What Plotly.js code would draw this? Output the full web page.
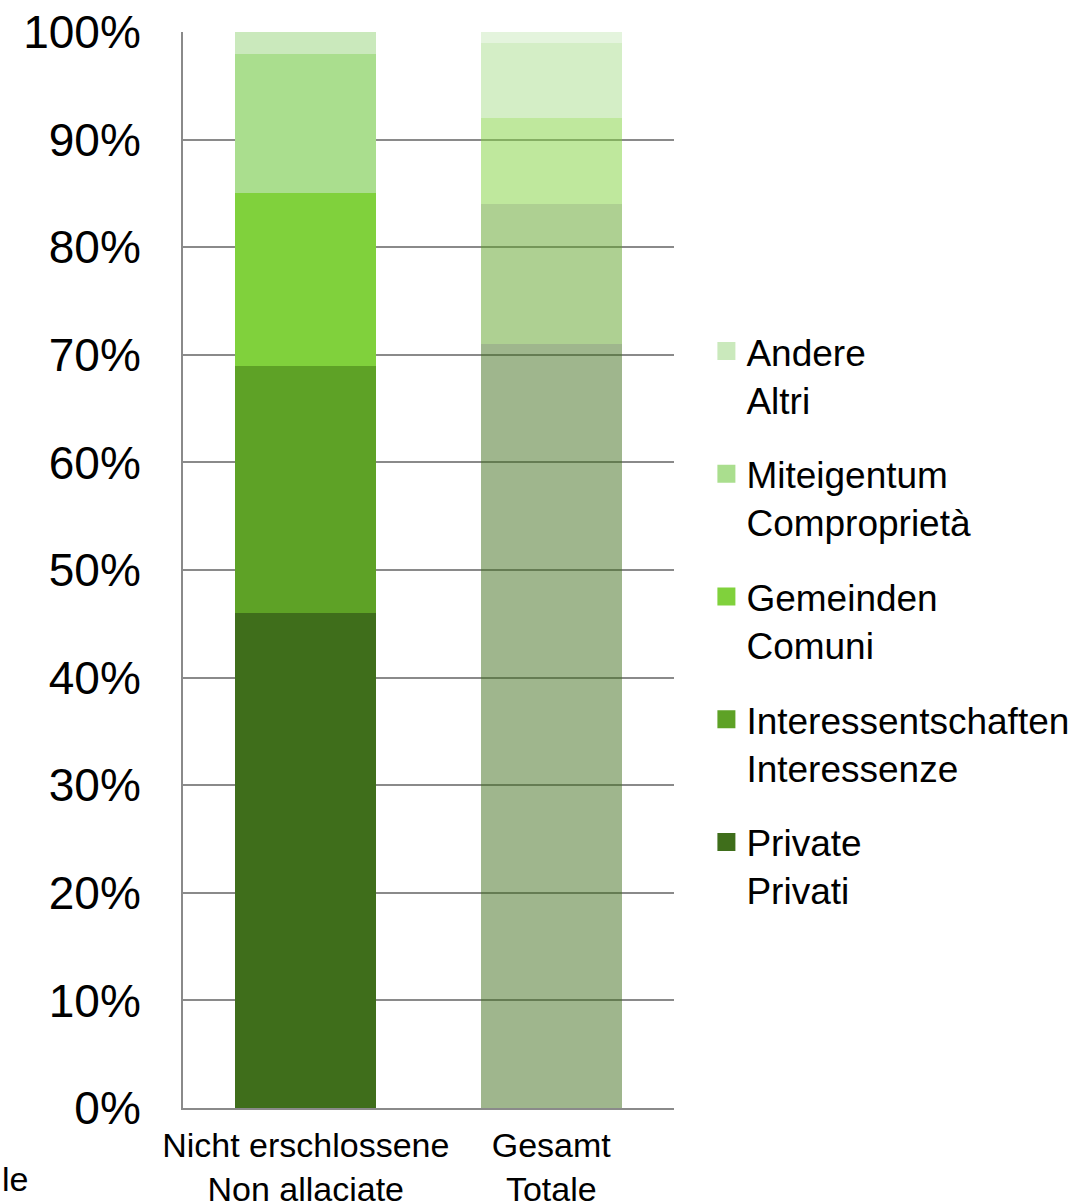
<!DOCTYPE html>
<html>
<head>
<meta charset="utf-8">
<script src="https://cdn.plot.ly/plotly-3.0.1.min.js"></script>
<style>html,body{margin:0;padding:0;background:#fff;}#chart{width:1080px;height:1203px;}</style>
</head>
<body>
<div id="chart"></div>
<script>
// Categories (x axis)
const categories = ["Nicht erschlossene<br>Non allaciate", "Gesamt<br>Totale"];
// Series names (legend)
const seriesNames = [
  "Private<br>Privati",
  "Interessentschaften<br>Interessenze",
  "Gemeinden<br>Comuni",
  "Miteigentum<br>Comproprietà",
  "Andere<br>Altri"
];
// Series values (percent), one per category
const privateVals = [46, 71];
const interessVals = [23, 13];
const gemeindenVals = [16, 8];
const miteigentumVals = [13, 7];
const andereVals = [2, 1];
const tickVals = [0, 10, 20, 30, 40, 50, 60, 70, 80, 90, 100];
const tickText = ["0%", "10%", "20%", "30%", "40%", "50%", "60%", "70%", "80%", "90%", "100%"];

const seriesValues = [privateVals, interessVals, gemeindenVals, miteigentumVals, andereVals];
const baseColors = [[63,110,27],[94,162,38],[128,209,60],[170,222,142],[202,233,188]];
const totalAlpha = 0.5;

const rgb = c => `rgb(${c[0]},${c[1]},${c[2]})`;
const rgba = (c, a) => `rgba(${c[0]},${c[1]},${c[2]},${a})`;

const barTraces = seriesNames.map((name, i) => ({
  type: "bar",
  name: name,
  x: categories,
  y: seriesValues[i],
  showlegend: false,
  legendgroup: "g" + i,
  marker: {
    color: [rgb(baseColors[i]), rgba(baseColors[i], totalAlpha)],
    line: {width: 0}
  },
  hoverinfo: "skip"
}));

// legend entries (square swatches), top entry = last stacked series
const legendTraces = seriesNames.map((name, i) => ({
  type: "scatter",
  mode: "markers",
  name: name,
  x: [categories[0]],
  y: [null],
  legendgroup: "g" + i,
  legendrank: 1000 - i * 10,
  marker: {symbol: "square", size: 16, color: rgb(baseColors[i]), line: {width: 2, color: rgb(baseColors[i])}},
  hoverinfo: "skip"
}));

const font = "Liberation Sans, Arial, sans-serif";
const layout = {
  width: 1080,
  height: 1203,
  barmode: "stack",
  bargap: 0.425,
  paper_bgcolor: "#ffffff",
  plot_bgcolor: "#ffffff",
  margin: {l: 183, r: 406, t: 32, b: 95, pad: 0, autoexpand: false},
  font: {family: font, color: "#000000"},
  xaxis: {
    type: "category",
    showgrid: false,
    showline: true,
    linecolor: "#8a8a8a",
    linewidth: 2,
    ticks: "",
    tickfont: {size: 34, family: font, color: "#000"},
    ticklabelstandoff: 6,
    zeroline: false
  },
  yaxis: {
    range: [0, 100],
    tickvals: tickVals,
    ticktext: tickText,
    showgrid: true,
    gridcolor: "#8a8a8a",
    gridwidth: 2,
    showline: true,
    linecolor: "#8a8a8a",
    linewidth: 2,
    ticks: "",
    tickfont: {size: 46, family: font, color: "#000"},
    ticklabelstandoff: 31,
    zeroline: false
  },
  legend: {
    traceorder: "grouped",
    x: 1.066,
    xanchor: "left",
    y: 0.453,
    yanchor: "middle",
    valign: "top",
    font: {size: 37, family: font, color: "#000"},
    tracegroupgap: 23.5,
    itemwidth: 30,
    itemsizing: "trace",
    bgcolor: "rgba(0,0,0,0)"
  },
  annotations: [{
    text: "le",
    xref: "paper", yref: "paper",
    x: -0.372, y: -0.066,
    xanchor: "left", yanchor: "middle",
    showarrow: false,
    font: {size: 34, family: font, color: "#000"}
  }]
};

Plotly.newPlot("chart", barTraces.concat(legendTraces), layout, {displayModeBar: false, staticPlot: true});
</script>
</body>
</html>
